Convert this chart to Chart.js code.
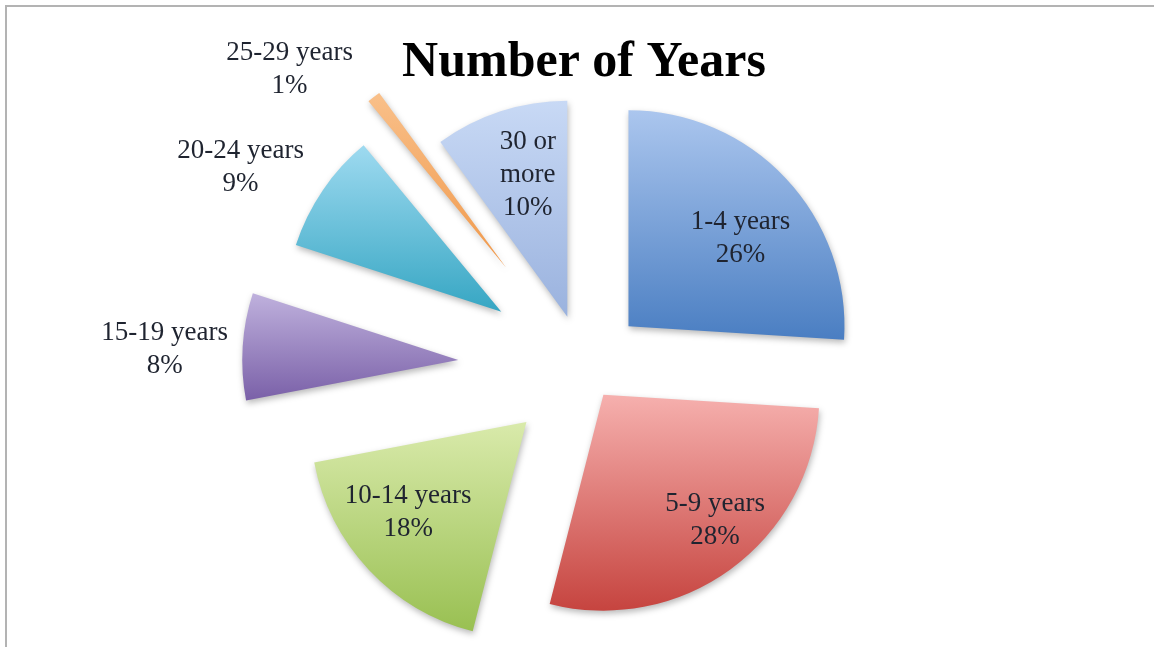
<!DOCTYPE html>
<html>
<head>
<meta charset="utf-8">
<script src="https://cdn.jsdelivr.net/npm/chart.js@4.4.0/dist/chart.umd.min.js"></script>
<style>
  html, body { margin: 0; padding: 0; background: #fff; }
  #wrap { position: relative; width: 1154px; height: 647px; overflow: hidden; }
  #frame { position: absolute; left: 5px; top: 5px; right: -10px; bottom: -10px;
           border-left: 2px solid #b3b3b3; border-top: 2px solid #b3b3b3; }
  #chart { position: absolute; left: 0; top: 0; }
</style>
</head>
<body>
<div id="wrap">
  <div id="frame"></div>
  <canvas id="chart" width="1154" height="647"></canvas>
</div>
<script>
// data
const categories = ['1-4 years', '5-9 years', '10-14 years', '15-19 years', '20-24 years', '25-29 years', '30 or more'];
const percents = [26, 28, 18, 8, 9, 1, 10];

// slice gradients, top colour -> bottom colour
const topColors = ['#abc6ee', '#f6b0ae', '#d9eaab', '#bfb1dd', '#9edaf0', '#f9c08a', '#c8d9f5'];
const bottomColors = ['#4a7ec2', '#c6443f', '#99c052', '#7a60a8', '#36a6c3', '#f0984a', '#9ab2de'];

// how far each slice is pulled out (px), and where its label sits
const explode = [61, 33, 79, 126, 100, 127, 54];
const labelDist = [0.66, 0.78, 0.69, 1.36, 1.38, 1.36, 0.68];
const labelTurn = [5, -5.5, 5.7, -1.5, -5.2, -9.7, 2.4];

const labelFont = '27px "Liberation Serif", "Times New Roman", serif';

// split a label into lines that fit maxW
function wrap(ctx, text, maxW) {
  const words = text.split(' ');
  const lines = [];
  let cur = '';
  words.forEach(w => {
    const t = cur ? cur + ' ' + w : w;
    if (cur && ctx.measureText(t).width > maxW) {
      lines.push(cur);
      cur = w;
    } else {
      cur = t;
    }
  });
  if (cur) lines.push(cur);
  return lines;
}

// pull slices out and give each a vertical gradient over its own extent
const explodePlugin = {
  id: 'explode',
  afterDatasetUpdate(chart, args) {
    const ctx = chart.ctx;
    args.meta.data.forEach((arc, i) => {
      const mid = (arc.startAngle + arc.endAngle) / 2;
      arc.x += explode[i] * Math.cos(mid);
      arc.y += explode[i] * Math.sin(mid);
      const r = arc.outerRadius;
      const ys = [arc.y, arc.y + r * Math.sin(arc.startAngle), arc.y + r * Math.sin(arc.endAngle)];
      [-Math.PI / 2, Math.PI / 2, 3 * Math.PI / 2].forEach(a => {
        if (a > arc.startAngle && a < arc.endAngle) ys.push(arc.y + r * Math.sin(a));
      });
      const g = ctx.createLinearGradient(0, Math.min(...ys), 0, Math.max(...ys));
      g.addColorStop(0, topColors[i]);
      g.addColorStop(1, bottomColors[i]);
      arc.options = Object.assign({}, arc.options, { backgroundColor: g });
    });
  },
  beforeDatasetsDraw(chart) {
    const ctx = chart.ctx;
    ctx.save();
    ctx.shadowColor = 'rgba(0,0,0,0.28)';
    ctx.shadowBlur = 6;
    ctx.shadowOffsetX = 1;
    ctx.shadowOffsetY = 3;
  },
  afterDatasetsDraw(chart) {
    const ctx = chart.ctx;
    ctx.restore();
    const meta = chart.getDatasetMeta(0);
    const total = percents.reduce((a, b) => a + b, 0);
    ctx.save();
    ctx.font = labelFont;
    ctx.fillStyle = '#1f2430';
    ctx.textAlign = 'center';
    ctx.textBaseline = 'middle';
    meta.data.forEach((arc, i) => {
      const ang = (arc.startAngle + arc.endAngle) / 2 + labelTurn[i] * Math.PI / 180;
      const dist = labelDist[i] * arc.outerRadius;
      const x = arc.x + dist * Math.cos(ang);
      const y = arc.y + dist * Math.sin(ang);
      const maxW = labelDist[i] < 1 ? 2 * dist * Math.sin((arc.endAngle - arc.startAngle) / 2) * 0.9 : 1000;
      const lines = wrap(ctx, categories[i], maxW);
      lines.push(Math.round(percents[i] / total * 100) + '%');
      const lh = 33;
      lines.forEach((t, k) => ctx.fillText(t, x, y + (k - (lines.length - 1) / 2) * lh));
    });
    ctx.restore();
  }
};

const chart = new Chart(document.getElementById('chart'), {
  type: 'pie',
  data: {
    labels: categories,
    datasets: [{
      data: percents,
      backgroundColor: topColors,
      borderWidth: 0,
      hoverOffset: 0,
      clip: false
    }]
  },
  options: {
    responsive: false,
    animation: false,
    events: [],
    radius: 216,
    layout: { padding: { left: 14, right: 0, top: 0, bottom: 4 } },
    plugins: {
      legend: { display: false },
      tooltip: { enabled: false },
      title: {
        display: true,
        text: 'Number of Years',
        color: '#000',
        font: { family: '"Liberation Serif", "Times New Roman", serif', size: 50, weight: 'bold', lineHeight: 1.2 },
        padding: { top: 33, bottom: 0 }
      }
    }
  },
  plugins: [explodePlugin]
});
</script>
</body>
</html>
